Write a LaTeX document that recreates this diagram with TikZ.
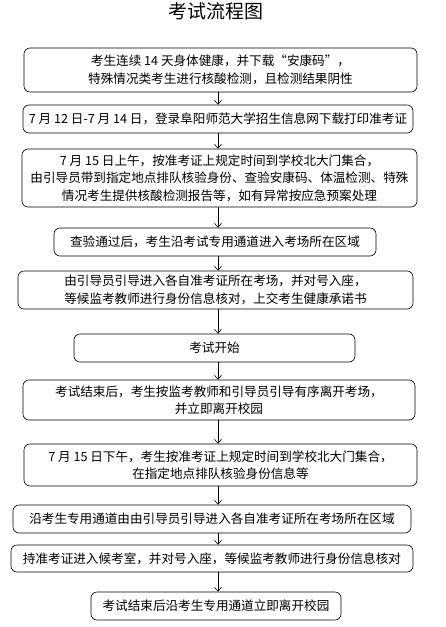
\documentclass[tikz,border=0pt]{standalone}
\usepackage{fontspec}
\setmainfont{Noto Sans CJK SC}
\usetikzlibrary{arrows.meta}
\tikzset{
  flowbox/.style={draw=black, line width=0.6pt, rounded corners=6pt, inner sep=0pt,
    align=center, font=\fontsize{12.6pt}{17.5pt}\selectfont},
  arr/.style={draw=black, line width=0.6pt, -{Straight Barb[length=4pt,width=7pt]}},
  titletext/.style={inner sep=0pt, font=\fontsize{19pt}{22pt}\selectfont}
}
\begin{document}
\begin{tikzpicture}[x=1pt,y=-1pt]
\useasboundingbox (0,0) rectangle (445,627);
\node[titletext] (title) at (216,11) {考试流程图};
\node[flowbox, minimum width=393pt, minimum height=44pt] (b1) at (220.5,70)
  {考生连续 14 天身体健康，并下载“安康码”，\\特殊情况类考生进行核酸检测，且检测结果阴性};
\node[flowbox, minimum width=390pt, minimum height=28pt] (b2) at (218,119)
  {7 月 12 日-7 月 14 日，登录阜阳师范大学招生信息网下载打印准考证};
\node[flowbox, minimum width=395pt, minimum height=58pt] (b3) at (219.5,178)
  {7 月 15 日上午，按准考证上规定时间到学校北大门集合，\\由引导员带到指定地点排队核验身份、查验安康码、体温检测、特殊\\情况考生提供核酸检测报告等，如有异常按应急预案处理};
\node[flowbox, minimum width=322pt, minimum height=28pt] (b4) at (215,242)
  {查验通过后，考生沿考试专用通道进入考场所在区域};
\node[flowbox, minimum width=395pt, minimum height=38pt] (b5) at (215.5,290)
  {由引导员引导进入各自准考证所在考场，并对号入座，\\等候监考教师进行身份信息核对，上交考生健康承诺书};
\node[flowbox, minimum width=281pt, minimum height=28pt] (b6) at (214.5,348)
  {考试开始};
\node[flowbox, minimum width=392pt, minimum height=40pt] (b7) at (219,400)
  {考试结束后，考生按监考教师和引导员引导有序离开考场，\\并立即离开校园};
\node[flowbox, minimum width=393pt, minimum height=42pt] (b8) at (220.5,465)
  {7 月 15 日下午，考生按准考证上规定时间到学校北大门集合，\\在指定地点排队核验身份信息等};
\node[flowbox, minimum width=398pt, minimum height=28pt] (b9) at (212,519)
  {沿考生专用通道由由引导员引导进入各自准考证所在考场所在区域};
\node[flowbox, minimum width=402pt, minimum height=27pt] (b10) at (212,558.5)
  {持准考证进入候考室，并对号入座，等候监考教师进行身份信息核对};
\node[flowbox, minimum width=250pt, minimum height=28pt] (b11) at (216,606)
  {考试结束后沿考生专用通道立即离开校园};
\coordinate (ax) at (218,0);
\foreach \a/\b in {b1/b2,b2/b3,b3/b4,b4/b5,b5/b6,b6/b7,b7/b8,b8/b9,b9/b10,b10/b11}{
  \draw[arr] (\a.south -| ax) -- (\b.north -| ax);
}
\end{tikzpicture}
\end{document}
